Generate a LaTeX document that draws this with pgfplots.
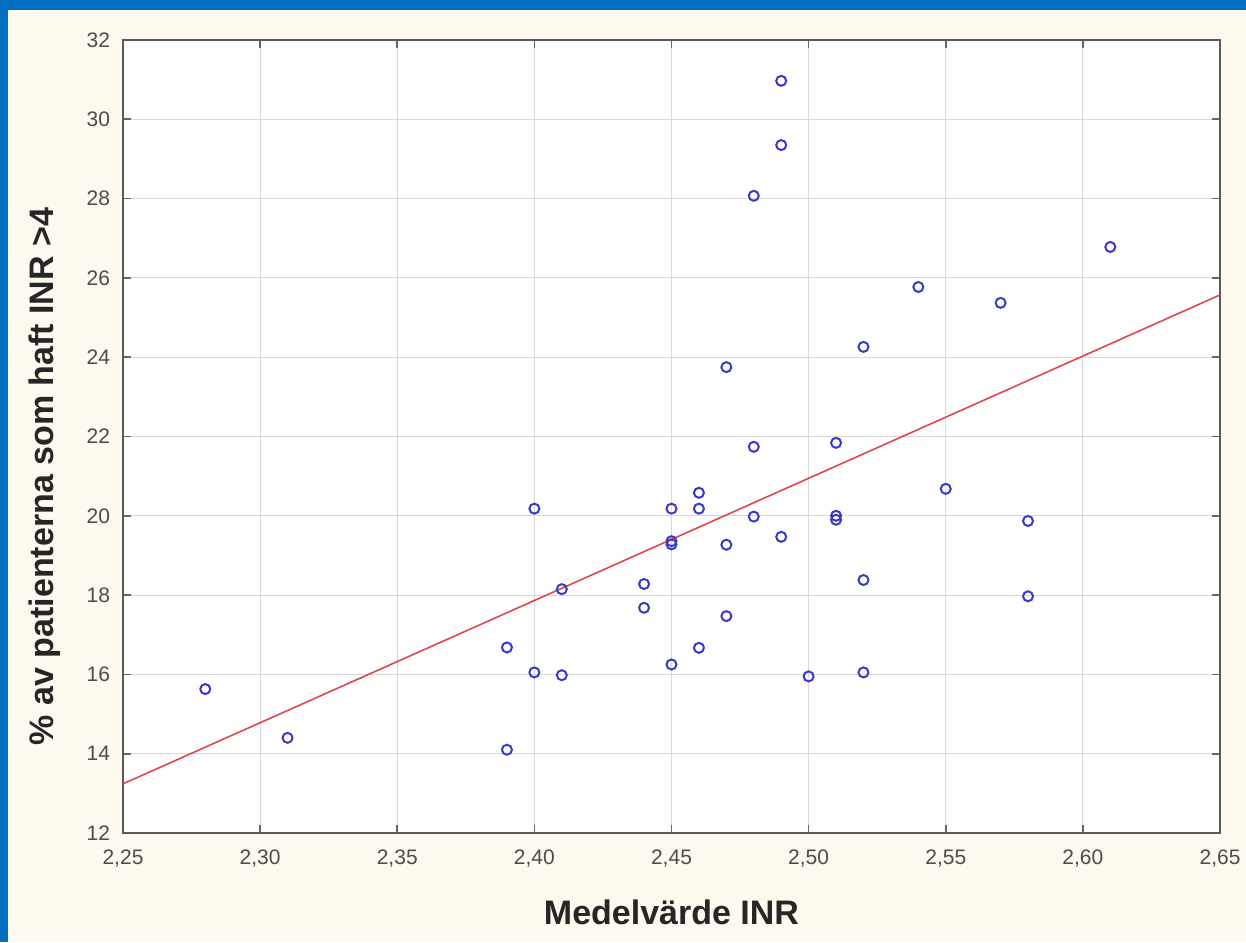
\documentclass[border=0pt]{standalone}
\usepackage{pgfplots}
\pgfplotsset{compat=1.18}
\usepackage{fontspec}
\setmainfont{Liberation Sans}
\definecolor{bgcream}{HTML}{FDF9EE}
\definecolor{frameblue}{HTML}{0070C0}
\definecolor{markblue}{HTML}{3A3AC8}
\definecolor{regred}{HTML}{E0474C}
\begin{document}
\begin{tikzpicture}
\path[fill=bgcream, use as bounding box] (-61.5pt,-54.5pt) rectangle (561.5pt,416.5pt);
\fill[frameblue] (-61.5pt,411.5pt) rectangle (561.5pt,416.5pt);
\fill[frameblue] (-61.5pt,-54.5pt) rectangle (-57.5pt,416.5pt);
\begin{axis}[
  at={(0,0)}, anchor=south west, scale only axis,
  width=548.5pt, height=396.5pt,
  xmin=2.25, xmax=2.65, ymin=12, ymax=32,
  xtick={2.25,2.30,2.35,2.40,2.45,2.50,2.55,2.60,2.65},
  ytick={12,14,16,18,20,22,24,26,28,30,32},
  grid=major,
  grid style={black!15, line width=0.6pt},
  axis line style={black!65, line width=1.2pt},
  axis background/.style={fill=white},
  tick style={black!60, line width=0.8pt},
  major tick length=4pt,
  /pgf/number format/assume math mode=true,
  ticklabel style={font=\fontsize{10.5}{12}\selectfont, text=black!70},
  xticklabel style={yshift=-5pt, /pgf/number format/.cd, fixed, fixed zerofill, precision=2, use comma},
  yticklabel style={xshift=-3pt, /pgf/number format/.cd, fixed},
  xlabel={Medelvärde INR},
  ylabel={\% av patienterna som haft INR >4},
  label style={font=\fontsize{17}{20}\selectfont\bfseries, text=black!85},
  xlabel style={at={(axis description cs:0.5,-0.0996)}, anchor=center},
  ylabel style={at={(axis description cs:-0.0711,0.4496)}, anchor=center},
]
\addplot[regred, line width=0.8pt] coordinates {(2.25,13.24) (2.65,25.57)};
\addplot[only marks, mark=o, mark size=2.5pt, markblue, mark options={line width=1pt}] coordinates {
(2.28,15.63) (2.31,14.40) (2.39,14.10) (2.39,16.68) (2.40,20.18) (2.40,16.05)
(2.41,18.15) (2.41,15.98) (2.44,18.28) (2.44,17.68) (2.45,20.18) (2.45,19.36)
(2.45,19.28) (2.45,16.25) (2.46,20.58) (2.46,20.18) (2.46,16.67) (2.47,23.75)
(2.47,19.27) (2.47,17.47) (2.48,28.07) (2.48,21.74) (2.48,19.98) (2.49,30.97)
(2.49,29.35) (2.49,19.47) (2.50,15.95) (2.51,21.84) (2.51,20.00) (2.51,19.90)
(2.52,24.26) (2.52,18.38) (2.52,16.05) (2.54,25.77) (2.55,20.68) (2.57,25.37)
(2.58,19.87) (2.58,17.97) (2.61,26.78)
};
\end{axis}
\end{tikzpicture}
\end{document}
